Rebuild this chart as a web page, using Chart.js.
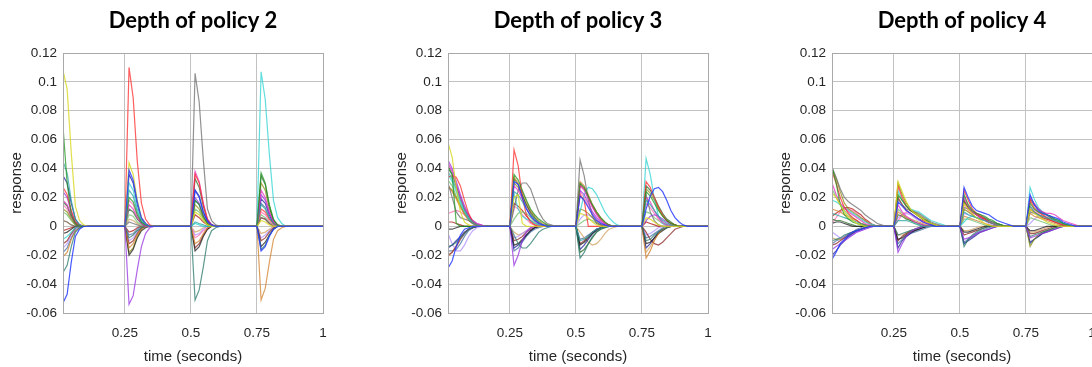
<!DOCTYPE html>
<html>
<head>
<meta charset="utf-8">
<script src="https://cdn.jsdelivr.net/npm/chart.js@4.4.1/dist/chart.umd.min.js"></script>
<style>
  html, body { margin: 0; padding: 0; background: #ffffff; width: 1092px; height: 367px; overflow: hidden; }
  .panel { position: absolute; top: 0; width: 364px; height: 367px; }
</style>
</head>
<body>
<div class="panel" style="left:0px"><canvas id="depth2" width="364" height="367"></canvas></div>
<div class="panel" style="left:385px"><canvas id="depth3" width="364" height="367"></canvas></div>
<div class="panel" style="left:769px"><canvas id="depth4" width="364" height="367"></canvas></div>
<script>
// ---- data ----------------------------------------------------------------
// Responses are sampled at 64 Hz over one second; a new input arrives every
// 0.25 s, so each curve is stored as four pulses of samples that follow an
// onset (the sample at t = 0.25 k + 1/64 first). Samples not listed are 0.
const sampleRate = 64;
const samplesPerPulse = 16;
const panelTitles = ['Depth of policy 2', 'Depth of policy 3', 'Depth of policy 4'];
const xTickValues = [0.25, 0.5, 0.75, 1];
const xTickLabels = ['0.25', '0.5', '0.75', '1'];
const yTickValues = [-0.06, -0.04, -0.02, 0, 0.02, 0.04, 0.06, 0.08, 0.1, 0.12];
const yTickLabels = ['-0.06', '-0.04', '-0.02', '0', '0.02', '0.04', '0.06', '0.08', '0.1', '0.12'];
const xAxisLabel = 'time (seconds)';
const yAxisLabel = 'response';

// one row per unit: [pulse 1, pulse 2, pulse 3, pulse 4]
const depth2Responses = [
  [[-0.053,-0.047,-0.025,-0.007,-0.002], [0.039,0.032,0.017,0.006,0.002], [0.025,0.02,0.01,0.004,0.001], [-0.017,-0.014,-0.007,-0.002]],
  [[0.108,0.095,0.051,0.014,0.004,0.001], [0.044,0.036,0.018,0.006,0.002], [0.01,0.008,0.004,0.001], [0.004,0.003,0.001]],
  [[0.069,0.03,0.008,0.002], [0.02,0.017,0.008,0.003,0.001], [0.018,0.015,0.007,0.002], [0.037,0.03,0.015,0.005,0.001]],
  [[0.045,0.037,0.018,0.005,0.001], [0.025,0.021,0.01,0.003,0.001], [0.003,0.002,0.001], [0.015,0.012,0.006,0.002]],
  [[0.027,0.022,0.011,0.003,0.001], [0.11,0.089,0.045,0.016,0.005,0.001], [0.036,0.03,0.015,0.005,0.001], [0.012,0.01,0.005,0.002]],
  [[0.018,0.015,0.008,0.002], [0.015,0.012,0.006,0.002], [0.038,0.031,0.016,0.005,0.001], [0.025,0.02,0.01,0.003,0.001]],
  [[0.024,0.02,0.01,0.003,0.001], [-0.054,-0.048,-0.03,-0.014,-0.005,-0.001], [0.02,0.016,0.008,0.003], [0.022,0.018,0.009,0.003]],
  [[0.004,0.003,0.001], [0.003,0.002,0.001], [0.106,0.086,0.046,0.012,0.004,0.001], [0.006,0.005,0.002]],
  [[-0.009,-0.007,-0.004,-0.001], [0.03,0.025,0.012,0.004,0.001], [0.002,0.001], [0.107,0.088,0.05,0.018,0.006,0.002]],
  [[-0.032,-0.027,-0.014,-0.004,-0.001], [-0.008,-0.006,-0.003,-0.001], [-0.051,-0.044,-0.028,-0.01,-0.003,-0.001], [-0.016,-0.013,-0.006,-0.002]],
  [[-0.021,-0.018,-0.009,-0.003,-0.001], [-0.015,-0.012,-0.006,-0.002], [-0.012,-0.01,-0.005,-0.001], [-0.051,-0.043,-0.025,-0.009,-0.003,-0.001]],
  [[-0.005,-0.004,-0.002], [-0.02,-0.016,-0.008,-0.003,-0.001], [-0.017,-0.014,-0.007,-0.002], [-0.014,-0.011,-0.006,-0.002]],
  [[0.017,0.014,0.007,0.002], [0.012,0.01,0.005,0.002], [0.033,0.027,0.014,0.004,0.001], [0.035,0.029,0.014,0.004,0.001]],
  [[0.012,0.01,0.005,0.001], [-0.018,-0.015,-0.007,-0.002], [0.015,0.012,0.006,0.002], [0.03,0.025,0.012,0.004]],
  [[0.015,0.012,0.006,0.002], [0.018,0.015,0.007,0.002], [-0.008,-0.006,-0.003,-0.001], [0.01,0.008,0.004,0.001]],
  [[0.035,0.03,0.016,0.005,0.001], [0.036,0.03,0.015,0.005,0.001], [0.025,0.021,0.01,0.003,0.001], [0.019,0.016,0.008,0.002]],
  [[-0.012,-0.01,-0.005,-0.001], [-0.012,-0.01,-0.005,-0.001], [-0.015,-0.012,-0.006,-0.002], [-0.01,-0.008,-0.004,-0.001]],
  [[-0.015,-0.012,-0.006,-0.002], [-0.01,-0.008,-0.004,-0.001], [-0.006,-0.005,-0.002], [-0.008,-0.006,-0.003,-0.001]],
  [[0.01,0.008,0.004,0.001], [0.008,0.007,0.003,0.001], [0.012,0.01,0.005,0.001], [0.008,0.006,0.003,0.001]],
  [[0.004,0.003,0.001], [0.005,0.004,0.002], [-0.004,-0.003,-0.001], [-0.005,-0.004,-0.002]],
  [[-0.018,-0.015,-0.008,-0.002], [-0.006,-0.005,-0.002], [0.018,0.015,0.007,0.002], [0.016,0.013,0.006,0.002]],
  [[-0.003,-0.002,-0.001], [-0.004,-0.003,-0.001], [0.008,0.006,0.003,0.001], [0.006,0.005,0.002]]
];

const depth3Responses = [
  [[-0.029,-0.024,-0.014,-0.006,-0.002,-0.001], [0.031,0.029,0.02,0.012,0.007,0.004,0.002,0.001], [0.021,0.018,0.013,0.008,0.004,0.002,0.001], [0.012,0.021,0.026,0.027,0.024,0.018,0.011,0.006,0.003,0.001]],
  [[0.058,0.048,0.027,0.01,0.003,0.001], [0.02,0.022,0.002], [0.009,0.008,0.006,0.003,0.001], [0.006,0.005,0.003,0.001]],
  [[0.04,0.036,0.002], [0.036,0.032,0.025,0.018,0.012,0.008,0.005,0.003,0.001], [0.03,0.027,0.021,0.015,0.01,0.006,0.003,0.001], [0.024,0.021,0.016,0.011,0.007,0.004,0.002,0.001]],
  [[0.038,0.033,0.026,0.018,0.011,0.006,0.003,0.001], [0.024,0.022,0.017,0.012,0.008,0.005,0.003,0.001], [-0.01,-0.009,-0.007,-0.004,-0.002,-0.001], [0.018,0.015,0.011,0.007,0.004,0.002,0.001]],
  [[0.034,0.035,0.034,0.028,0.018,0.009,0.003,0.001], [0.053,0.042,0.02,0.008,0.003,0.001], [0.022,0.018,0], [0.031,0.027,0.02,0.013,0.008,0.004,0.002,0.001]],
  [[0.044,0.038,0.029,0.02,0.013,0.007,0.004,0.002,0.001], [0.028,0.025,0.019,0.013,0.008,0.004,0.002,0.001], [0.028,0.025,0.019,0.013,0.008,0.004,0.002,0.001], [0.02,0.017,0.011,0.006,0.003,0.001]],
  [[0.046,0.04,0.031,0.022,0.014,0.008,0.004,0.002,0.001], [-0.027,-0.02,-0.01,-0.004,-0.001], [0.025,0.022,0.016,0.01,0.006,0.003,0.001], [0.004,0.007,0.008,0.007,0.005,0.003,0.001]],
  [[0.03,0.02,0.01,0.006,0.005,0.004,0.002,0.001], [0.012,0.025,0.03,0.03,0.026,0.018,0.01,0.005,0.002,0.001], [0.046,0.035,0.018,0.007,0.002,0.001], [0.022,0.01,0.004,0.001]],
  [[0.036,0.031,0.024,0.016,0.01,0.005,0.002,0.001], [0.022,0.012,0.007,0.005,0.004,0.002,0.001], [0.01,0.022,0.027,0.026,0.022,0.016,0.01,0.006,0.003,0.001], [0.047,0.036,0.019,0.007,0.002,0.001]],
  [[-0.014,-0.013,-0.011,-0.008,-0.005,-0.002,-0.001], [-0.006,-0.012,-0.015,-0.015,-0.012,-0.008,-0.004,-0.002,-0.001], [-0.022,-0.018,-0.012,-0.007,-0.004,-0.002,-0.001], [-0.01,-0.009,-0.006,-0.004,-0.002,-0.001]],
  [[0.028,0.024,0.019,0.013,0.008,0.004,0.002], [0.034,0.03,0.024,0.017,0.011,0.007,0.004,0.002,0.001], [0.031,0.028,0.022,0.015,0.01,0.006,0.003,0.001], [-0.022,-0.017,-0.01,-0.005,-0.002,-0.001]],
  [[-0.002,-0.002,-0.001], [-0.013,-0.012,-0.009,-0.006,-0.003,-0.001], [-0.013,-0.011,-0.008,-0.005,-0.003,-0.001], [-0.012,-0.011,-0.008,-0.005,-0.003,-0.001]],
  [[0.042,0.036,0.028,0.02,0.012,0.007,0.003,0.001], [0.033,0.029,0.022,0.015,0.01,0.006,0.003,0.001], [-0.018,-0.016,-0.012,-0.008,-0.004,-0.002,-0.001], [0.028,0.025,0.02,0.014,0.009,0.005,0.003,0.001]],
  [[0.028,0.025,0.02,0.014,0.009,0.005,0.002,0.001], [0.03,0.027,0.021,0.015,0.009,0.005,0.002,0.001], [0.012,0.011,0.009,0.006,0.003,0.001], [0.026,0.023,0.018,0.012,0.007,0.004,0.002,0.001]],
  [[0.009,0.01,0.011,0.01,0.008,0.005,0.003,0.001], [0.014,0.012,0.008,0.005,0.002,0.001], [0.024,0.02,0.014,0.009,0.005,0.002,0.001], [0.016,0.013,0.009,0.005,0.002,0.001]],
  [[-0.015,-0.013,-0.01,-0.007,-0.004,-0.002,-0.001], [-0.015,-0.013,-0.01,-0.006,-0.003,-0.001], [-0.016,-0.013,-0.009,-0.005,-0.002,-0.001], [-0.015,-0.012,-0.008,-0.004,-0.002,-0.001]],
  [[-0.02,-0.018,-0.014,-0.009,-0.005,-0.002,-0.001], [-0.01,-0.009,-0.007,-0.004,-0.002,-0.001], [-0.012,-0.01,-0.007,-0.004,-0.002,-0.001], [-0.004,-0.009,-0.012,-0.013,-0.011,-0.008,-0.005,-0.002,-0.001]],
  [[-0.005,-0.012,-0.017,-0.017,-0.013,-0.007,-0.003,-0.001], [-0.008,-0.007,-0.005,-0.003,-0.001], [0.005,0.008,0.008,0.006,0.004,0.002,0.001], [-0.006,-0.005,-0.003,-0.001]],
  [[0.032,0.028,0.021,0.015,0.009,0.005,0.002,0.001], [0.005,0.009,0.01,0.009,0.006,0.003,0.001], [0.002,0.004,0.005,0.004,0.002,0.001], [0.01,0.009,0.006,0.004,0.002,0.001]],
  [[-0.021,-0.018,-0.013,-0.008,-0.004,-0.002,-0.001], [-0.004,-0.006,-0.005,-0.003,-0.001], [-0.004,-0.008,-0.011,-0.013,-0.012,-0.009,-0.005,-0.002,-0.001], [-0.018,-0.014,-0.009,-0.005,-0.002,-0.001]],
  [[-0.017,-0.017,-0.016,-0.012,-0.007,-0.003,-0.001], [-0.017,-0.015,-0.011,-0.007,-0.004,-0.002,-0.001], [-0.009,-0.008,-0.006,-0.004,-0.002,-0.001], [-0.008,-0.007,-0.005,-0.003,-0.001]],
  [[0.003,0.003,0.002,0.001], [0.016,0.014,0.011,0.007,0.004,0.002,0.001], [0.029,0.026,0.02,0.014,0.009,0.005,0.002,0.001], [0.003,0.002,0.001]]
];

const depth4Responses = [
  [[-0.023,-0.018,-0.012,-0.009,-0.006,-0.004,-0.003,-0.002,-0.001], [0.017,0.014,0.011,0.009,0.007,0.005,0.003,0.002,0.001], [0.027,0.02,0.014,0.011,0.01,0.009,0.008,0.006,0.004,0.003,0.002,0.001], [0.022,0.015,0.011,0.009,0.008,0.007,0.006,0.005,0.003,0.002,0.001]],
  [[0.023,0.02,0.015,0.01,0.006,0.004,0.002,0.001], [0.031,0.024,0.017,0.012,0.009,0.007,0.005,0.003,0.002,0.001], [0.016,0.012,0.009,0.006,0.004,0.002,0.001], [0.012,0.009,0.007,0.005,0.003,0.002,0.001]],
  [[0.041,0.03,0.015,0.008,0.005,0.003,0.002,0.001], [0.022,0.018,0.014,0.011,0.009,0.007,0.005,0.004,0.002,0.001], [0.022,0.015,0.011,0.009,0.008,0.007,0.005,0.004,0.002,0.001], [0.016,0.012,0.01,0.009,0.008,0.007,0.005,0.004,0.002,0.001]],
  [[0.009,0.008,0.007,0.006,0.005,0.004,0.003,0.002,0.001], [0.004,0.004,0.004,0.003,0.002,0.001], [0.01,0.008,0.007,0.006,0.005,0.004,0.003,0.002,0.001], [0.014,0.01,0.008,0.007,0.006,0.005,0.004,0.003,0.002,0.001]],
  [[0.038,0.03,0.02,0.013,0.009,0.006,0.004,0.002,0.001], [0.028,0.02,0.014,0.011,0.009,0.007,0.005,0.003,0.002,0.001], [0.025,0.018,0.012,0.009,0.007,0.005,0.003,0.002,0.001], [0.018,0.013,0.01,0.008,0.006,0.004,0.003,0.002,0.001]],
  [[0.03,0.022,0.016,0.013,0.01,0.008,0.006,0.004,0.002,0.001], [0.015,0.01,0.007,0.005,0.003,0.002,0.001], [0.02,0.014,0.01,0.008,0.006,0.004,0.003,0.002,0.001], [0.02,0.016,0.012,0.01,0.009,0.009,0.008,0.006,0.004,0.003,0.002,0.001]],
  [[-0.016,-0.014,-0.012,-0.01,-0.008,-0.006,-0.004,-0.003,-0.002,-0.001], [-0.018,-0.012,-0.007,-0.004,-0.002,-0.001], [-0.009,-0.008,-0.007,-0.005,-0.004,-0.003,-0.002,-0.001], [-0.008,-0.007,-0.006,-0.005,-0.004,-0.003,-0.002,-0.001]],
  [[0.041,0.034,0.026,0.02,0.017,0.015,0.013,0.011,0.008,0.006,0.004,0.002,0.001], [0.019,0.015,0.012,0.011,0.01,0.009,0.007,0.005,0.003,0.002,0.001], [0.013,0.012,0.01,0.009,0.008,0.006,0.004,0.003,0.002,0.001], [0.01,0.009,0.008,0.007,0.006,0.005,0.003,0.002,0.001]],
  [[0.018,0.017,0.015,0.013,0.011,0.009,0.007,0.005,0.003,0.002,0.001], [0.025,0.018,0.014,0.012,0.011,0.01,0.008,0.006,0.004,0.003,0.002,0.001], [0.003,0.006,0.007,0.006,0.005,0.004,0.003,0.002,0.001], [0.027,0.019,0.013,0.01,0.008,0.007,0.005,0.004,0.002,0.001]],
  [[-0.01,-0.009,-0.008,-0.006,-0.005,-0.004,-0.003,-0.002,-0.001], [-0.006,-0.005,-0.004,-0.003,-0.002,-0.001], [-0.014,-0.009,-0.006,-0.004,-0.002,-0.001], [-0.007,-0.006,-0.005,-0.004,-0.003,-0.002,-0.001]],
  [[0.012,0.011,0.01,0.008,0.007,0.005,0.004,0.002,0.001], [0.01,0.008,0.006,0.005,0.004,0.003,0.002,0.001], [0.007,0.006,0.005,0.004,0.003,0.002,0.001], [0.009,0.007,0.006,0.005,0.004,0.003,0.002,0.001]],
  [[0.002,0.003,0.003,0.002,0.001], [-0.009,-0.008,-0.006,-0.004,-0.003,-0.002,-0.001], [-0.004,-0.004,-0.003,-0.002,-0.001], [-0.003,-0.003,-0.002,-0.001]],
  [[0.005,0.004,0.004,0.003,0.002,0.001], [0.008,0.007,0.005,0.004,0.003,0.002,0.001], [0.017,0.013,0.01,0.008,0.007,0.006,0.004,0.003,0.002,0.001], [0.019,0.015,0.012,0.01,0.008,0.006,0.004,0.003,0.002,0.001]],
  [[0.04,0.033,0.024,0.016,0.012,0.01,0.008,0.006,0.004,0.002,0.001], [0.03,0.022,0.016,0.012,0.01,0.008,0.006,0.004,0.002,0.001], [0.012,0.01,0.008,0.006,0.005,0.004,0.003,0.002,0.001], [-0.014,-0.009,-0.006,-0.004,-0.003,-0.002,-0.001]],
  [[0.002,0.006,0.01,0.012,0.012,0.011,0.009,0.006,0.004,0.002,0.001], [0.004,0.008,0.01,0.009,0.007,0.005,0.003,0.002,0.001], [0.015,0.011,0.008,0.006,0.005,0.004,0.003,0.002,0.001], [0.014,0.011,0.009,0.008,0.007,0.006,0.004,0.003,0.002,0.001]],
  [[-0.02,-0.017,-0.013,-0.01,-0.007,-0.005,-0.003,-0.002,-0.001], [-0.015,-0.01,-0.007,-0.005,-0.003,-0.002,-0.001], [-0.012,-0.01,-0.008,-0.006,-0.004,-0.003,-0.002,-0.001], [-0.011,-0.009,-0.007,-0.005,-0.004,-0.003,-0.002,-0.001]],
  [[-0.013,-0.012,-0.01,-0.008,-0.006,-0.004,-0.003,-0.002,-0.001], [-0.01,-0.007,-0.005,-0.003,-0.002,-0.001], [-0.006,-0.005,-0.004,-0.003,-0.002,-0.001], [-0.005,-0.005,-0.004,-0.003,-0.002,-0.001]],
  [[-0.004,-0.006,-0.008,-0.008,-0.007,-0.006,-0.004,-0.003,-0.002,-0.001], [0.006,0.008,0.009,0.008,0.006,0.004,0.003,0.002,0.001], [0.009,0.008,0.007,0.006,0.005,0.004,0.002,0.001], [0.002,0.005,0.007,0.008,0.008,0.007,0.005,0.004,0.002,0.001]],
  [[0.026,0.02,0.015,0.011,0.008,0.006,0.004,0.002,0.001], [0.012,0.009,0.006,0.004,0.002,0.001], [0.005,0.005,0.004,0.003,0.002,0.001], [0.006,0.005,0.004,0.003,0.002,0.001]],
  [[-0.008,-0.009,-0.009,-0.008,-0.006,-0.005,-0.003,-0.002,-0.001], [-0.006,-0.006,-0.005,-0.004,-0.003,-0.002,-0.001], [-0.003,-0.003,-0.002,-0.001], [-0.004,-0.004,-0.003,-0.002,-0.001]],
  [[-0.012,-0.01,-0.009,-0.007,-0.005,-0.004,-0.002,-0.001], [-0.012,-0.009,-0.007,-0.005,-0.004,-0.003,-0.002,-0.001], [-0.011,-0.009,-0.007,-0.005,-0.003,-0.002,-0.001], [-0.012,-0.009,-0.007,-0.005,-0.003,-0.002,-0.001]],
  [[0.007,0.009,0.011,0.013,0.013,0.012,0.01,0.008,0.005,0.003,0.001], [0.02,0.015,0.011,0.009,0.007,0.005,0.004,0.002,0.001], [0.018,0.013,0.01,0.008,0.006,0.005,0.003,0.002,0.001], [0.012,0.01,0.008,0.006,0.005,0.004,0.003,0.002,0.001]]
];

// ---- styling -------------------------------------------------------------
const lineColors = [
  'rgba(40,60,255,0.85)',  'rgba(215,215,30,0.8)',  'rgba(30,150,30,0.75)',  'rgba(40,165,160,0.75)',
  'rgba(255,40,40,0.75)',  'rgba(225,45,190,0.75)', 'rgba(150,50,225,0.75)', 'rgba(110,110,110,0.75)',
  'rgba(45,210,210,0.75)', 'rgba(40,120,105,0.75)', 'rgba(210,130,45,0.75)', 'rgba(30,30,30,0.75)',
  'rgba(40,105,40,0.75)',  'rgba(140,140,20,0.75)', 'rgba(255,110,175,0.75)','rgba(30,30,150,0.75)',
  'rgba(140,35,35,0.75)',  'rgba(175,140,255,0.75)','rgba(110,190,110,0.75)','rgba(210,160,95,0.75)',
  'rgba(65,110,160,0.75)', 'rgba(175,20,20,0.75)'
];

const tickFont = { family: "'Liberation Sans', Arial, sans-serif", size: 13.5 };
const axisTitleFont = { family: "'Liberation Sans', Arial, sans-serif", size: 15 };
const textColor = '#262626';
const gridColor = '#c2c2c2';

const sampleTimes = [];
for (let i = 1; i <= sampleRate; i++) sampleTimes.push(i / sampleRate);

function toPoints(pulses) {
  const values = new Array(sampleTimes.length).fill(0);
  pulses.forEach((pulse, k) => {
    pulse.forEach((v, j) => { values[k * samplesPerPulse + j] = v; });
  });
  return sampleTimes.map((t, i) => ({ x: t, y: values[i] }));
}

// box around the plotting area
const frame = {
  id: 'frame',
  afterDraw(chart) {
    const { ctx, chartArea: a } = chart;
    ctx.save();
    ctx.strokeStyle = '#a9a9a9';
    ctx.lineWidth = 1;
    ctx.strokeRect(Math.round(a.left) + 0.5, Math.round(a.top) + 0.5,
                   Math.round(a.right - a.left), Math.round(a.bottom - a.top));
    ctx.restore();
  }
};

function drawPanel(canvasId, title, responses) {
  const datasets = responses.map((pulses, i) => ({
    data: toPoints(pulses),
    borderColor: lineColors[i % lineColors.length],
    borderWidth: 1.2,
    pointRadius: 0,
    tension: 0,
    fill: false
  }));

  new Chart(document.getElementById(canvasId), {
    type: 'line',
    data: { datasets },
    plugins: [frame],
    options: {
      responsive: false,
      animation: false,
      events: [],
      layout: { padding: { left: 0, right: 41, top: 0, bottom: 0 } },
      plugins: {
        legend: { display: false },
        tooltip: { enabled: false },
        title: {
          display: true,
          text: title,
          fullSize: false,
          color: '#000000',
          font: { family: "Lato, 'Open Sans', sans-serif", size: 22, weight: 'bold', lineHeight: 1.2 },
          padding: { top: 8, bottom: 18.6 }
        }
      },
      scales: {
        x: {
          type: 'linear',
          min: sampleTimes[0],
          max: 1,
          afterBuildTicks(scale) { scale.ticks = xTickValues.map(v => ({ value: v })); },
          afterFit(scale) { scale.height = 54; },
          ticks: {
            autoSkip: false,
            maxRotation: 0,
            padding: 12,
            color: textColor,
            font: tickFont,
            callback: (v, i) => xTickLabels[i]
          },
          grid: { color: gridColor, drawTicks: false },
          border: { display: true, color: '#a9a9a9' },
          title: { display: true, text: xAxisLabel, color: textColor, font: axisTitleFont, padding: { top: 0, bottom: 1 } }
        },
        y: {
          type: 'linear',
          min: -0.06,
          max: 0.12,
          afterBuildTicks(scale) { scale.ticks = yTickValues.map(v => ({ value: v })); },
          afterFit(scale) { scale.width = 63; },
          ticks: {
            autoSkip: false,
            padding: 6,
            color: textColor,
            font: tickFont,
            callback: (v, i) => yTickLabels[i]
          },
          grid: { color: gridColor, drawTicks: false },
          border: { display: true, color: '#a9a9a9' },
          title: { display: true, text: yAxisLabel, color: textColor, font: axisTitleFont, padding: { top: 8, bottom: 0 } }
        }
      }
    }
  });
}

drawPanel('depth2', panelTitles[0], depth2Responses);
drawPanel('depth3', panelTitles[1], depth3Responses);
drawPanel('depth4', panelTitles[2], depth4Responses);
</script>
</body>
</html>
